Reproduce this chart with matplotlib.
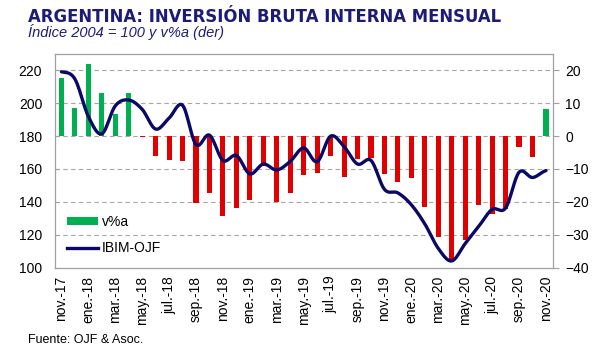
import numpy as np
import matplotlib
matplotlib.use("Agg")
import matplotlib.pyplot as plt
from matplotlib.patches import Patch
from matplotlib.lines import Line2D

plt.rcParams['font.family'] = ['Liberation Sans', 'DejaVu Sans']

# meses nov-17 .. nov-20
meses = ['nov.-17', 'dic.-17', 'ene.-18', 'feb.-18', 'mar.-18', 'abr.-18', 'may.-18', 'jun.-18',
         'jul.-18', 'ago.-18', 'sep.-18', 'oct.-18', 'nov.-18', 'dic.-18', 'ene.-19', 'feb.-19',
         'mar.-19', 'abr.-19', 'may.-19', 'jun.-19', 'jul.-19', 'ago.-19', 'sep.-19', 'oct.-19',
         'nov.-19', 'dic.-19', 'ene.-20', 'feb.-20', 'mar.-20', 'abr.-20', 'may.-20', 'jun.-20',
         'jul.-20', 'ago.-20', 'sep.-20', 'oct.-20', 'nov.-20']

# v%a (eje derecho)
var_anual = [17.8, 8.6, 22.0, 13.1, 6.8, 13.0, -0.2, -6.1, -7.3, -7.7, -20.3, -17.2, -24.2,
             -22.0, -19.5, -9.0, -20.2, -17.2, -11.9, -11.3, -6.1, -12.3, -7.0, -6.8, -11.5,
             -14.1, -12.6, -21.5, -30.8, -38.0, -31.6, -21.0, -23.6, -22.3, -3.4, -6.4, 8.4]

# IBIM-OJF, indice 2004 = 100 (eje izquierdo)
ibim = [219.2, 214.8, 192.0, 181.4, 198.4, 202.0, 196.3, 184.3, 191.0, 198.8, 174.8, 180.6,
        165.2, 168.2, 157.0, 163.0, 159.4, 164.6, 172.8, 164.4, 180.0, 173.6, 163.0, 165.2,
        147.6, 145.4, 138.2, 126.5, 111.6, 104.0, 114.6, 125.0, 135.4, 136.2, 158.0, 154.8, 159.0]

navy = '#1c1c78'
verde = '#00b050'
rojo = '#e00000'


def suavizar(y, n=12):
    # curva suavizada tipo Excel (Catmull-Rom)
    y = np.asarray(y, dtype=float)
    p = np.concatenate([[y[0]], y, [y[-1]]])
    xs, ys = [], []
    for i in range(len(y) - 1):
        p0, p1, p2, p3 = p[i], p[i + 1], p[i + 2], p[i + 3]
        t = np.linspace(0, 1, n, endpoint=False)
        ys.append(0.5 * (2 * p1 + (-p0 + p2) * t + (2 * p0 - 5 * p1 + 4 * p2 - p3) * t ** 2
                         + (-p0 + 3 * p1 - 3 * p2 + p3) * t ** 3))
        xs.append(i + t)
    xs.append([len(y) - 1])
    ys.append([y[-1]])
    return np.concatenate(xs), np.concatenate(ys)


x = np.arange(len(meses))
colores = [verde if v >= 0 else rojo for v in var_anual]

fig = plt.figure(figsize=(5.99, 3.53), dpi=100)
ax = fig.add_axes([0.0913, 0.2422, 0.8314, 0.6048])
ax2 = ax.twinx()

# barras en eje derecho
ax.bar(x, var_anual, width=0.38, color=colores, zorder=2)
ax.set_ylim(-40, 25)
ax.set_yticks(range(-40, 21, 10))
ax.yaxis.tick_right()
ax.tick_params(axis='y', direction='out', length=4, color='#a0a0a0', labelsize=10, pad=5,
               left=False, labelleft=False, right=True, labelright=True)
ax.set_xlim(-0.5, len(meses) - 0.5)
ax.set_xticks(x[::2])
ax.set_xticklabels(meses[::2], rotation=90, fontsize=10)
ax.tick_params(axis='x', length=0, pad=6)
for v in range(-30, 21, 10):
    ax.axhline(v, color='#a6a6a6', lw=0.8, ls=(0, (4, 3)), zorder=1)
for s in ax.spines.values():
    s.set_color('#a0a0a0')
    s.set_linewidth(0.9)

# linea en eje izquierdo
xs, ys = suavizar(ibim)
ax2.plot(xs, ys, color='#0a0a66', lw=2.4, solid_capstyle='round', zorder=3)
ax2.set_ylim(100, 230)
ax2.set_yticks(range(100, 221, 20))
ax2.tick_params(axis='y', direction='in', length=3, color='#a0a0a0', labelsize=10, pad=9,
                left=True, labelleft=True, right=False, labelright=False)
for s in ax2.spines.values():
    s.set_visible(False)

handles = [Patch(facecolor=verde, edgecolor='none'),
           Line2D([0], [0], color='#0a0a66', lw=2.4)]
ax2.legend(handles, ['v%a', 'IBIM-OJF'], loc='lower left', bbox_to_anchor=(0.0, -0.002),
           frameon=False, fontsize=10, handlelength=2.2, handleheight=0.6,
           labelspacing=0.9, handletextpad=0.3)

fig.text(0.047, 0.952, 'ARGENTINA: INVERSIÓN BRUTA INTERNA MENSUAL', fontsize=11.9,
         fontweight='bold', color=navy, family='DejaVu Sans', va='center')
fig.text(0.047, 0.908, 'Índice 2004 = 100 y v%a (der)', fontsize=10.5, style='italic',
         color=navy, va='center')
fig.text(0.046, 0.037, 'Fuente: OJF & Asoc.', fontsize=9, va='center')

fig.savefig('out.png', dpi=100)
